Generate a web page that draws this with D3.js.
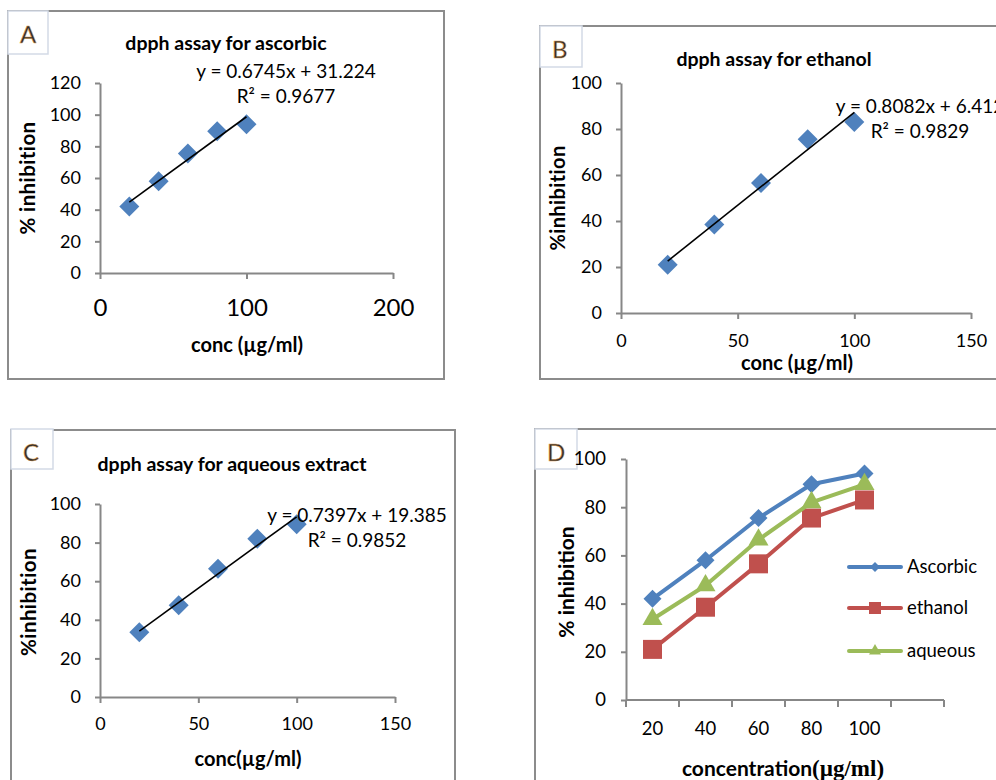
<!DOCTYPE html>
<html><head><meta charset="utf-8">
<script src="https://cdn.jsdelivr.net/npm/d3@7"></script>
<style>
body{margin:0;background:#fff}
svg{display:block}
text{font-family:Lato,"Open Sans",sans-serif;fill:#000}
</style>
</head><body>
<svg id="chart" width="996" height="780"></svg>
<script>
// ---------------- data ----------------
const concentrations = [20, 40, 60, 80, 100];
const ascorbic = [42, 58, 75.5, 89.5, 94];
const ethanol  = [21, 38.5, 56.5, 75.5, 83];
const aqueous  = [33.5, 47.5, 66.5, 82, 89.5];
const categoryLabels = ["20", "40", "60", "80", "100"];
const seriesNames = ["Ascorbic", "ethanol", "aqueous"];
const fitAscorbic = [0.6745, 31.224];
const fitEthanol  = [0.8082, 6.412];
const fitAqueous  = [0.7397, 19.385];
const eqTexts = ["y = 0.6745x + 31.224", "y = 0.8082x + 6.412", "y = 0.7397x + 19.385"];
const r2Texts = ["R² = 0.9677", "R² = 0.9829", "R² = 0.9852"];
const yTicksA = [0, 20, 40, 60, 80, 100, 120];
const xTicksA = [0, 100, 200];
const yTicks100 = [0, 20, 40, 60, 80, 100];
const xTicks150 = [0, 50, 100, 150];

// ---------------- style ----------------
const BLUE = "#4F81BD", RED = "#C0504D", GREEN = "#9BBB59";
const AXIS = "#878787", FRAME = "#8c8c8c";

const svg = d3.select("#chart");

function frame(x0, y0, x1, y1) {
  svg.append("rect").attr("x", x0).attr("y", y0).attr("width", x1 - x0).attr("height", y1 - y0)
    .attr("fill", "none").attr("stroke", FRAME).attr("stroke-width", 2);
}
function letterBox(x0, y0, x1, y1, letter) {
  svg.append("rect").attr("x", x0).attr("y", y0).attr("width", x1 - x0).attr("height", y1 - y0)
    .attr("fill", "#fff").attr("stroke", "#d3dae6").attr("stroke-width", 1.5);
  svg.append("text").attr("x", x0 + 12).attr("y", y0 + 32).text(letter)
    .style("font-size", "24px").style("fill", "#2e2e2e")
    .style("stroke", "#e0a050").style("stroke-width", 0.5);
}
function styleAxis(g) {
  g.select(".domain").attr("stroke", AXIS).attr("stroke-width", 2);
  g.selectAll(".tick line").attr("stroke", AXIS).attr("stroke-width", 2);
}

function scatterPanel(c) {
  frame(...c.frame);
  letterBox(...c.box, c.letter);
  const x = d3.scaleLinear().domain(c.xDomain).range(c.xRange);
  const y = d3.scaleLinear().domain(c.yDomain).range(c.yRange);

  const gy = svg.append("g").attr("transform", `translate(${c.xRange[0]},0)`)
    .call(d3.axisLeft(y).tickValues(c.yTicks).tickSize(5).tickSizeOuter(0).tickPadding(14));
  gy.selectAll("text").style("font-size", c.yFont + "px").style("font-family", "Lato");
  styleAxis(gy);
  const gx = svg.append("g").attr("transform", `translate(0,${c.yRange[0]})`)
    .call(d3.axisBottom(x).tickValues(c.xTicks).tickSize(6).tickSizeOuter(0));
  gx.selectAll("text").attr("dy", 0).attr("y", c.xLabOff).style("font-size", c.xFont + "px").style("font-family", "Lato");
  styleAxis(gx);

  svg.append("text").attr("x", c.title[0]).attr("y", c.title[1]).attr("text-anchor", "middle")
    .style("font-weight", "bold").style("font-size", "19.5px").text(c.titleText);
  svg.append("text").attr("x", c.xlab[0]).attr("y", c.xlab[1]).attr("text-anchor", "middle")
    .style("font-weight", "bold").style("font-size", "20px").text(c.xlabText);
  svg.append("text").attr("transform", `translate(${c.ylab[0]},${c.ylab[1]}) rotate(-90)`)
    .attr("text-anchor", "middle").style("font-weight", "bold").style("font-size", c.ylabFont + "px")
    .style("letter-spacing", "0.4px").text(c.ylabText);

  const pts = concentrations.map((d, i) => [d, c.values[i]]);
  svg.append("g").selectAll("path").data(pts).join("path")
    .attr("transform", d => `translate(${x(d[0])},${y(d[1])}) rotate(45)`)
    .attr("d", d3.symbol(d3.symbolSquare, 200)()).attr("fill", BLUE);

  const x0 = d3.min(concentrations), x1 = d3.max(concentrations);
  svg.append("line")
    .attr("x1", x(x0)).attr("y1", y(c.fit[0] * x0 + c.fit[1]))
    .attr("x2", x(x1)).attr("y2", y(c.fit[0] * x1 + c.fit[1]))
    .attr("stroke", "#000").attr("stroke-width", 1.6);

  svg.append("text").attr("x", c.eq[0]).attr("y", c.eq[1]).attr("text-anchor", "middle")
    .style("font-size", "19px").text(c.eqText);
  svg.append("text").attr("x", c.eq[0]).attr("y", c.eq[1] + 25).attr("text-anchor", "middle")
    .style("font-size", "19px").text(c.r2Text);
}

// Panel A
scatterPanel({
  frame: [8, 11, 444, 379], box: [8, 11, 48, 54], letter: "A",
  xDomain: [0, 200], xRange: [100, 393], yDomain: [0, 120], yRange: [273, 83],
  xTicks: xTicksA, yTicks: yTicksA, yFont: 18, xFont: 24, xLabOff: 43,
  title: [226, 50], titleText: "dpph assay for ascorbic",
  xlab: [247, 352], xlabText: "conc (µg/ml)",
  ylab: [35, 178], ylabFont: 20.5, ylabText: "% inhibition",
  values: ascorbic, fit: fitAscorbic, eq: [286, 78], eqText: eqTexts[0], r2Text: r2Texts[0]
});
// Panel B
scatterPanel({
  frame: [540, 26, 1010, 379], box: [540, 26, 582, 67], letter: "B",
  xDomain: [0, 150], xRange: [621, 971], yDomain: [0, 100], yRange: [313, 83],
  xTicks: xTicks150, yTicks: yTicks100, yFont: 18, xFont: 18, xLabOff: 34,
  title: [774, 66], titleText: "dpph assay for ethanol",
  xlab: [797, 370], xlabText: "conc (µg/ml)",
  ylab: [565, 198], ylabFont: 20, ylabText: "%inhibition",
  values: ethanol, fit: fitEthanol, eq: [920, 113], eqText: eqTexts[1], r2Text: r2Texts[1]
});
// Panel C
scatterPanel({
  frame: [11, 430, 455, 800], box: [11, 429, 53, 469], letter: "C",
  xDomain: [0, 150], xRange: [100, 395], yDomain: [0, 100], yRange: [697, 504],
  xTicks: xTicks150, yTicks: yTicks100, yFont: 18, xFont: 18, xLabOff: 33,
  title: [232, 471], titleText: "dpph assay for aqueous extract",
  xlab: [248, 766], xlabText: "conc(µg/ml)",
  ylab: [36, 602], ylabFont: 20.5, ylabText: "%inhibition",
  values: aqueous, fit: fitAqueous, eq: [357, 522], eqText: eqTexts[2], r2Text: r2Texts[2]
});

// Panel D
(function () {
  frame(535, 429, 1010, 800);
  letterBox(535, 429, 577, 469, "D");
  const x = d3.scaleBand().domain(categoryLabels.concat([" "])).range([626, 944]);
  const y = d3.scaleLinear().domain([0, 100]).range([700, 459]);
  const gy = svg.append("g").attr("transform", "translate(626,0)")
    .call(d3.axisLeft(y).tickValues(yTicks100).tickSize(5).tickSizeOuter(0).tickPadding(15));
  gy.selectAll("text").style("font-size", "18.5px").style("font-family", "Lato");
  styleAxis(gy);
  // category axis
  const gx = svg.append("g");
  gx.append("line").attr("x1", x.range()[0]).attr("x2", x.range()[1]).attr("y1", y(0)).attr("y2", y(0))
    .attr("stroke", AXIS).attr("stroke-width", 2);
  const bounds = x.domain().map(d => x(d)).concat([x.range()[1]]);
  gx.selectAll("line.t").data(bounds).join("line").attr("class", "t")
    .attr("x1", d => d).attr("x2", d => d).attr("y1", y(0)).attr("y2", y(0) + 7)
    .attr("stroke", AXIS).attr("stroke-width", 2);
  gx.selectAll("text").data(categoryLabels).join("text")
    .attr("x", d => x(d) + x.bandwidth() / 2).attr("y", y(0) + 35).attr("text-anchor", "middle")
    .style("font-size", "18.5px").text(d => d);

  const xl = svg.append("text").attr("x", 783).attr("y", 776).attr("text-anchor", "middle")
    .style("font-weight", "bold").style("font-size", "21px");
  xl.append("tspan").text("concentration");
  xl.append("tspan").style("font-family", "'Liberation Serif',serif").style("font-size", "23px").text("(µg/ml)");
  svg.append("text").attr("transform", "translate(574,582) rotate(-90)").attr("text-anchor", "middle")
    .style("font-weight", "bold").style("font-size", "21px").text("% inhibition");

  const series = [
    {name: seriesNames[0], vals: ascorbic, color: BLUE, sym: "diamond"},
    {name: seriesNames[1], vals: ethanol, color: RED, sym: "square"},
    {name: seriesNames[2], vals: aqueous, color: GREEN, sym: "triangle"}
  ];
  const cx = (i) => x(categoryLabels[i]) + x.bandwidth() / 2;
  function marker(sym, s) {
    if (sym === "diamond") return d3.symbol(d3.symbolSquare, s * s / 2)();
    if (sym === "square") return d3.symbol(d3.symbolSquare, s * s)();
    return d3.symbol(d3.symbolTriangle, s * s * 0.433)();
  }
  const sizes = {diamond: 18, square: 19, triangle: 20};
  const line = d3.line().x((d, i) => cx(i)).y(d => y(d));
  series.forEach(s => {
    svg.append("path").datum(s.vals).attr("d", line).attr("fill", "none")
      .attr("stroke", s.color).attr("stroke-width", 4).attr("stroke-linejoin", "round").attr("stroke-linecap", "round");
    svg.append("g").selectAll("path").data(s.vals).join("path")
      .attr("transform", (d, i) => `translate(${cx(i)},${y(d)})` + (s.sym === "diamond" ? " rotate(45)" : ""))
      .attr("d", marker(s.sym, sizes[s.sym]))
      .attr("fill", s.color);
  });
  // legend
  const ly = [567, 608, 651];
  series.forEach((s, i) => {
    svg.append("line").attr("x1", 849).attr("x2", 901).attr("y1", ly[i]).attr("y2", ly[i])
      .attr("stroke", s.color).attr("stroke-width", 4).attr("stroke-linecap", "round");
    svg.append("path").attr("transform", `translate(875,${ly[i]})` + (s.sym === "diamond" ? " rotate(45)" : ""))
      .attr("d", marker(s.sym, s.sym === "diamond" ? 10 : 12))
      .attr("fill", s.color);
    svg.append("text").attr("x", 907).attr("y", ly[i] + 6).style("font-size", "18.5px").text(s.name);
  });
})();
</script>
</body></html>
